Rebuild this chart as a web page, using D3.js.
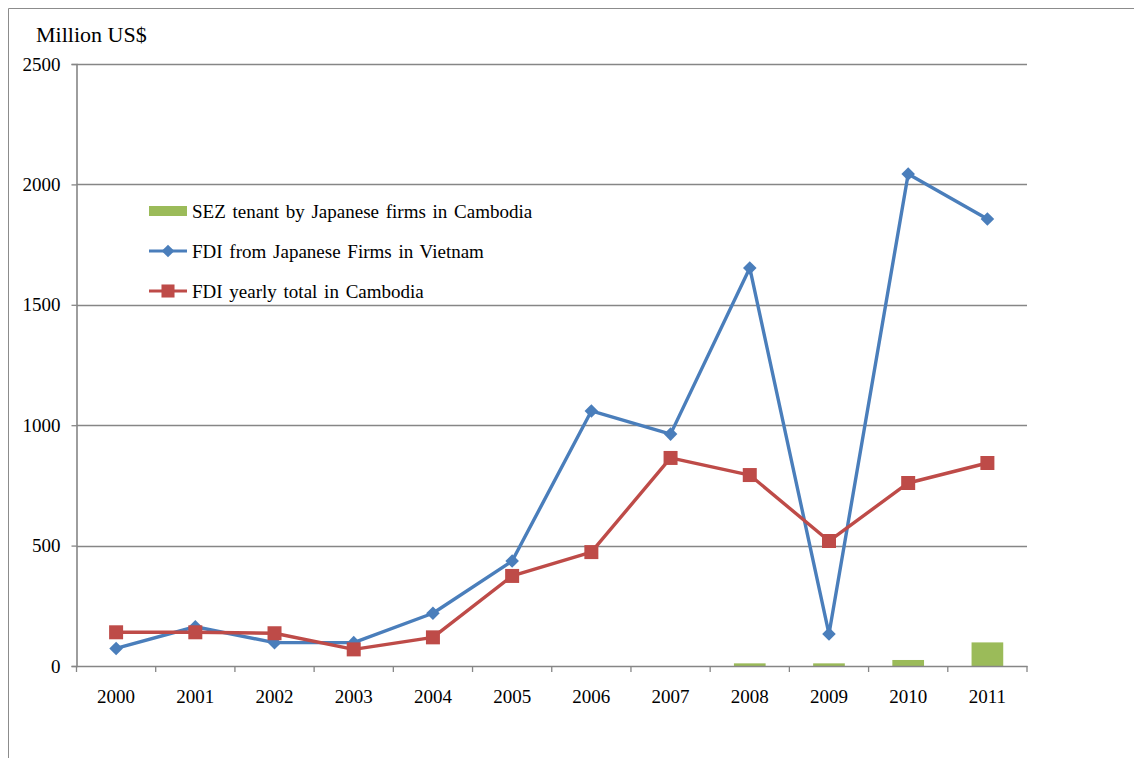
<!DOCTYPE html>
<html>
<head>
<meta charset="utf-8">
<script src="https://cdn.jsdelivr.net/npm/d3@7"></script>
<style>
  html, body { margin: 0; padding: 0; background: #fff; }
  svg { display: block; }
</style>
</head>
<body>
<svg id="chart" width="1134" height="758" font-family="'Liberation Serif', 'Times New Roman', serif"></svg>
<script>
// Chart data
const years = ["2000","2001","2002","2003","2004","2005","2006","2007","2008","2009","2010","2011"];
const sezJapanCambodia = [0, 0, 0, 0, 0, 0, 0, 0, 11, 11, 25, 98];
const fdiJapanVietnam = [73, 163, 97, 97, 219, 436, 1059, 963, 1653, 133, 2043, 1856];
const fdiTotalCambodia = [140, 140, 136, 69, 119, 374, 473, 864, 793, 519, 760, 843];
const yTicks = [0, 500, 1000, 1500, 2000, 2500];
const seriesNames = [
  "SEZ tenant by Japanese firms in Cambodia",
  "FDI from Japanese Firms in Vietnam",
  "FDI yearly total in Cambodia"
];

const FONT = "'Liberation Serif', 'Times New Roman', serif";
const colors = { green: "#9bbb59", blue: "#4a7ebb", red: "#be4b48", grid: "#868686" };

const svg = d3.select("#chart");
const plot = { left: 76.5, top: 64, right: 1027, bottom: 666 };

// Outer frame (top and left edges)
svg.append("path")
  .attr("d", "M8.5,758 L8.5,8.5 L1134,8.5")
  .attr("fill", "none").attr("stroke", "#8c8c8c").attr("stroke-width", 1);

const x = d3.scaleBand().domain(years).range([plot.left, plot.right]).padding(0);
const y = d3.scaleLinear().domain([0, 2500]).range([plot.bottom, plot.top]);

// Rotated-square marker
const diamond = {
  draw(ctx, size) {
    const r = Math.sqrt(size / 2);
    ctx.moveTo(0, -r); ctx.lineTo(r, 0); ctx.lineTo(0, r); ctx.lineTo(-r, 0); ctx.closePath();
  }
};

// Horizontal gridlines
svg.append("g").selectAll("line").data(yTicks.filter(d => d > 0)).join("line")
  .attr("x1", plot.left).attr("x2", plot.right)
  .attr("y1", d => Math.round(y(d)) + 0.5).attr("y2", d => Math.round(y(d)) + 0.5)
  .attr("stroke", colors.grid).attr("stroke-width", 1.3);

// Y axis
const yAxis = svg.append("g").attr("transform", `translate(${plot.left},0)`)
  .call(d3.axisLeft(y).tickValues(yTicks).tickSize(5).tickPadding(11).tickFormat(d3.format("d")))
  .attr("font-family", FONT).attr("font-size", 19);
yAxis.select(".domain").attr("stroke", colors.grid).attr("stroke-width", 1.6);
yAxis.selectAll(".tick line").attr("stroke", colors.grid).attr("stroke-width", 1.3);
yAxis.selectAll(".tick text").attr("fill", "#000");

// SEZ bars
const barW = x.bandwidth() * 0.4;
svg.append("g").selectAll("rect").data(years).join("rect")
  .attr("x", d => x(d) + (x.bandwidth() - barW) / 2)
  .attr("width", barW)
  .attr("y", (d, i) => y(sezJapanCambodia[i]))
  .attr("height", (d, i) => plot.bottom - y(sezJapanCambodia[i]))
  .attr("fill", colors.green);

// X axis
const xAxis = svg.append("g").attr("transform", `translate(0,${plot.bottom})`)
  .call(d3.axisBottom(x).tickSize(0))
  .attr("font-family", FONT).attr("font-size", 19);
xAxis.select(".domain").attr("stroke", colors.grid).attr("stroke-width", 1.6);
xAxis.selectAll(".tick text").attr("fill", "#000").attr("y", 37).attr("dy", 0);
// tick marks at category boundaries
const boundaries = years.map(d => x(d)).concat([plot.right]);
xAxis.append("g").selectAll("line").data(boundaries).join("line")
  .attr("x1", d => d).attr("x2", d => d).attr("y1", 0).attr("y2", 6)
  .attr("stroke", colors.grid).attr("stroke-width", 1.3);

const cx = d => x(d) + x.bandwidth() / 2;
const line = d3.line().x(d => cx(d.year)).y(d => y(d.v));

function drawSeries(values, color, shape, size) {
  const data = years.map((yr, i) => ({ year: yr, v: values[i] }));
  svg.append("path").datum(data).attr("d", line)
    .attr("fill", "none").attr("stroke", color).attr("stroke-width", 3.4)
    .attr("stroke-linejoin", "round");
  svg.append("g").selectAll("path").data(data).join("path")
    .attr("transform", d => `translate(${cx(d.year)},${y(d.v)})`)
    .attr("d", d3.symbol().type(shape).size(size))
    .attr("fill", color);
}

drawSeries(fdiJapanVietnam, colors.blue, diamond, 92);
drawSeries(fdiTotalCambodia, colors.red, d3.symbolSquare, 196);

// Legend
const legend = svg.append("g").attr("font-family", FONT).attr("font-size", 19);
const ly = [211, 251, 291];
legend.append("rect").attr("x", 149).attr("y", ly[0] - 5).attr("width", 38).attr("height", 10).attr("fill", colors.green);
legend.append("line").attr("x1", 149).attr("x2", 187).attr("y1", ly[1]).attr("y2", ly[1])
  .attr("stroke", colors.blue).attr("stroke-width", 3);
legend.append("path").attr("transform", `translate(168,${ly[1]})`)
  .attr("d", d3.symbol().type(diamond).size(80)).attr("fill", colors.blue);
legend.append("line").attr("x1", 149).attr("x2", 187).attr("y1", ly[2]).attr("y2", ly[2])
  .attr("stroke", colors.red).attr("stroke-width", 3);
legend.append("path").attr("transform", `translate(168,${ly[2]})`)
  .attr("d", d3.symbol().type(d3.symbolSquare).size(170)).attr("fill", colors.red);
legend.selectAll("text").data(seriesNames).join("text")
  .attr("x", 192).attr("y", (d, i) => ly[i] + 7)
  .attr("fill", "#000")
  .attr("word-spacing", 2)
  .text(d => d);

// Unit label
svg.append("text").attr("x", 36).attr("y", 42)
  .attr("font-family", FONT).attr("font-size", 22).attr("fill", "#000")
  .text("Million US$");
</script>
</body>
</html>
